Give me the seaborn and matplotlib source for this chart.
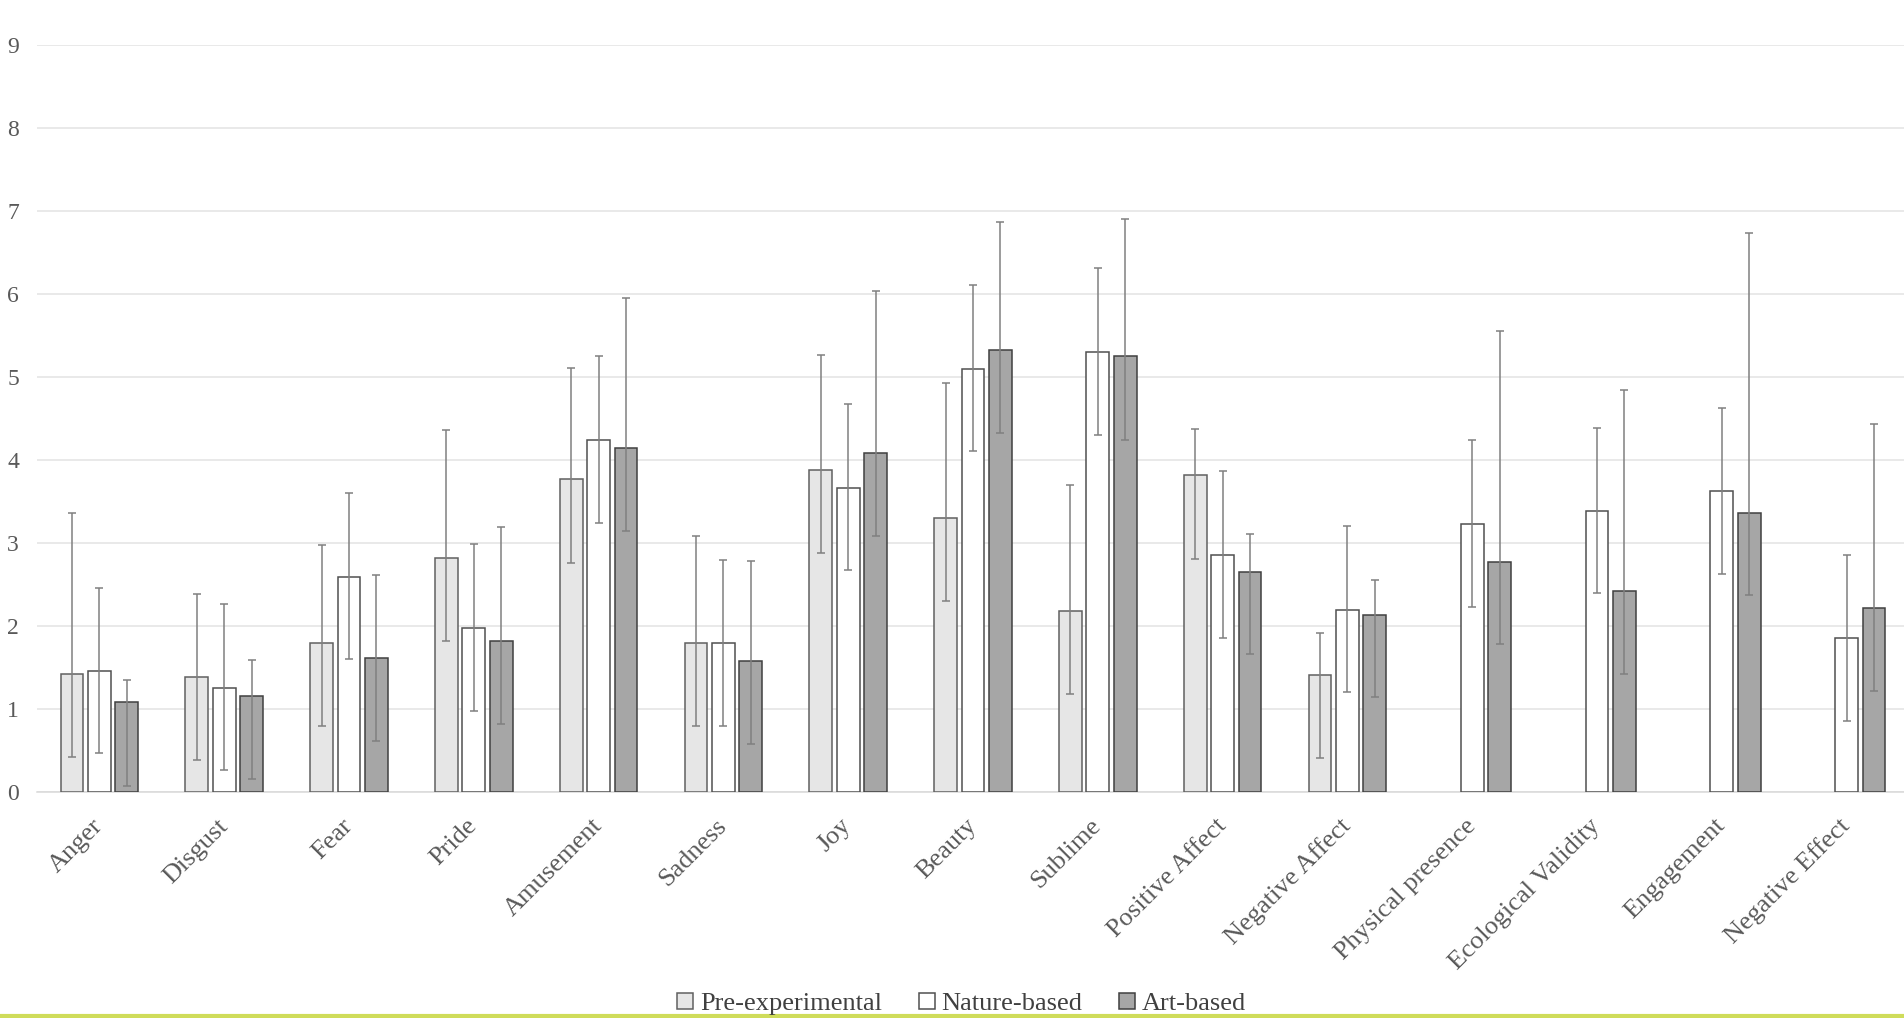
import numpy as np
import pandas as pd
import seaborn as sns
import matplotlib.pyplot as plt
from matplotlib.patches import Patch
from matplotlib.lines import Line2D

categories = ['Anger', 'Disgust', 'Fear', 'Pride', 'Amusement', 'Sadness', 'Joy', 'Beauty',
              'Sublime', 'Positive Affect', 'Negative Affect', 'Physical presence',
              'Ecological Validity', 'Engagement', 'Negative Effect']
conditions = ['Pre-experimental', 'Nature-based', 'Art-based']

pre_mean = [1.42, 1.38, 1.79, 2.82, 3.77, 1.80, 3.88, 3.30, 2.18, 3.82, 1.41,
            np.nan, np.nan, np.nan, np.nan]
pre_upper = [1.94, 1.01, 1.18, 1.54, 1.34, 1.28, 1.39, 1.63, 1.52, 0.55, 0.50,
             np.nan, np.nan, np.nan, np.nan]
pre_lower = [1.00, 1.00, 1.00, 1.00, 1.01, 1.00, 1.00, 1.00, 1.00, 1.01, 1.00,
             np.nan, np.nan, np.nan, np.nan]

nature_mean = [1.46, 1.25, 2.59, 1.98, 4.24, 1.80, 3.66, 5.10, 5.30, 2.86, 2.19,
               3.23, 3.39, 3.63, 1.86]
nature_upper = [1.00, 1.01, 1.01, 1.01, 1.01, 1.00, 1.01, 1.01, 1.01, 1.01, 1.01,
                1.01, 1.00, 1.00, 1.00]
nature_lower = [0.99, 0.99, 0.99, 1.00, 1.00, 1.00, 0.99, 0.99, 1.00, 1.00, 0.99,
                1.00, 0.99, 1.00, 1.01]

art_mean = [1.08, 1.16, 1.61, 1.82, 4.14, 1.58, 4.08, 5.32, 5.25, 2.65, 2.13,
            2.77, 2.42, 3.36, 2.22]
art_upper = [0.27, 0.43, 1.00, 1.37, 1.81, 1.20, 1.96, 1.55, 1.65, 0.46, 0.43,
             2.79, 2.42, 3.37, 2.21]
art_lower = [1.01, 1.00, 1.00, 1.00, 1.00, 1.00, 1.00, 0.99, 1.01, 0.99, 0.99,
             0.99, 1.00, 0.99, 1.00]

colors = {'Pre-experimental': '#e6e6e6', 'Nature-based': '#ffffff', 'Art-based': '#a6a6a6'}
edges = {'Pre-experimental': '#606060', 'Nature-based': '#505050', 'Art-based': '#404040'}

means = {'Pre-experimental': pre_mean, 'Nature-based': nature_mean, 'Art-based': art_mean}
uppers = {'Pre-experimental': pre_upper, 'Nature-based': nature_upper, 'Art-based': art_upper}
lowers = {'Pre-experimental': pre_lower, 'Nature-based': nature_lower, 'Art-based': art_lower}

rows = []
for cond in conditions:
    for i, cat in enumerate(categories):
        if not np.isnan(means[cond][i]):
            rows.append({'category': cat, 'condition': cond, 'value': means[cond][i]})
df = pd.DataFrame(rows)

sns.set_style('white')
plt.rcParams['font.family'] = ['Liberation Serif', 'DejaVu Serif']

fig = plt.figure(figsize=(19.04, 10.18), dpi=100)
ax = fig.add_axes([37 / 1904, 1 - 792 / 1018, (1909 - 37) / 1904, (792 - 45) / 1018])

sns.barplot(data=df, x='category', y='value', hue='condition', order=categories,
            hue_order=conditions, palette=colors, width=0.66, gap=0.17,
            errorbar=None, legend=False, linewidth=1.1, saturation=1, ax=ax, zorder=3)

# bar edges and asymmetric error bars
for cont, cond in zip(ax.containers, conditions):
    for bar in cont:
        bar.set_edgecolor(edges[cond])
        xc = bar.get_x() + bar.get_width() / 2
        idx = int(round(xc))
        lo = lowers[cond][idx]
        hi = uppers[cond][idx]
        ax.errorbar(xc, bar.get_height(), yerr=[[lo], [hi]], fmt='none',
                    ecolor='#808080', elinewidth=1.1, capsize=3.2, capthick=1.1, zorder=4)

ax.set_xlim(-0.5, 14.5)
ax.set_ylim(0, 9)
ax.set_yticks(range(0, 10))
ax.grid(axis='y', color='#e3e3e3', linewidth=1.1, zorder=0)
ax.set_axisbelow(True)
for s in ['top', 'right', 'left']:
    ax.spines[s].set_visible(False)
ax.spines['bottom'].set_color('#d9d9d9')
ax.spines['bottom'].set_linewidth(1.1)

ax.set_xlabel('')
ax.set_ylabel('')
ax.set_xticks(range(len(categories)))
ax.set_xticklabels(categories, rotation=45, ha='right', va='center', rotation_mode='anchor')
for lab in ax.get_xticklabels():
    lab.set_x(lab.get_position()[0])
ax.tick_params(axis='x', length=0, pad=22, labelsize=19, labelcolor='#595959')
ax.tick_params(axis='y', length=0, pad=13, labelsize=17, labelcolor='#595959')

handles = [Patch(facecolor=colors[c], edgecolor=edges[c], linewidth=1.1, label=c) for c in conditions]
fig.legend(handles=handles, loc='center', bbox_to_anchor=(0.505, 1 - 1004 / 1018), ncol=3,
           frameon=False, fontsize=19, labelcolor='#404040', handlelength=0.6, handleheight=0.6,
           handletextpad=0.25, columnspacing=1.4)

fig.add_artist(Line2D([0, 1], [1 - 1015.5 / 1018] * 2, transform=fig.transFigure,
                      color='#cfdc5a', linewidth=3))

plt.savefig('out.png', dpi=100)
